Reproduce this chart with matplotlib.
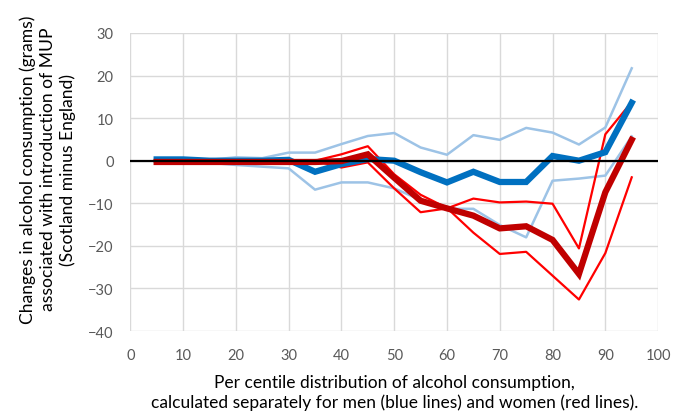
import numpy as np
import matplotlib.pyplot as plt

plt.rcParams['font.family'] = ['Lato', 'DejaVu Sans']

centile = [5, 10, 15, 20, 25, 30, 35, 40, 45, 50, 55, 60, 65, 70, 75, 80, 85, 90, 95]

men_mid = [0.3, 0.3, 0.0, 0.0, 0.0, 0.2, -2.6, -0.8, 0.4, 0.0, -2.7, -5.1, -2.6, -5.0, -5.0, 1.1, 0.0, 2.0, 13.6]
men_hi = [0.3, 0.3, 0.2, 0.8, 0.6, 1.9, 1.9, 3.9, 5.8, 6.5, 3.1, 1.4, 6.0, 4.9, 7.7, 6.6, 3.8, 7.8, 21.7]
men_lo = [0.2, 0.1, -0.5, -1.0, -1.4, -1.8, -6.8, -5.1, -5.1, -6.5, -9.2, -11.3, -11.3, -15.1, -18.0, -4.7, -4.2, -3.5, 5.7]

women_mid = [-0.3, -0.3, -0.3, -0.3, -0.3, -0.3, -0.3, -0.1, 1.5, -4.0, -9.4, -11.2, -12.9, -15.9, -15.4, -18.6, -26.6, -7.4, 4.9]
women_a = [0.0, 0.0, 0.0, 0.0, 0.0, 0.0, 0.0, 1.5, 3.4, -3.2, -8.0, -11.1, -16.9, -21.9, -21.4, -27.0, -32.6, -21.7, -3.9]
women_b = [0.0, 0.0, 0.0, 0.0, 0.0, 0.0, 0.0, -1.6, -0.4, -6.5, -12.1, -11.2, -8.9, -9.8, -9.6, -10.1, -20.6, 6.2, 13.8]

fig = plt.figure(figsize=(6.75, 4.14), dpi=100)
ax = fig.add_axes([0.193, 0.198, 0.782, 0.72])

light_blue = '#9DC3E6'
ax.plot(centile, men_hi, color=light_blue, lw=1.8, zorder=3)
ax.plot(centile, men_lo, color=light_blue, lw=1.8, zorder=3)
ax.plot(centile, women_a, color='#FF0000', lw=1.6, zorder=4)
ax.plot(centile, women_b, color='#FF0000', lw=1.6, zorder=4)
ax.plot(centile, men_mid, color='#0070C0', lw=4.5, zorder=5, solid_joinstyle='miter')
ax.plot(centile, women_mid, color='#C00000', lw=4.5, zorder=5, solid_joinstyle='miter')
ax.axhline(0, color='black', lw=1.6, zorder=6)

ax.set_xlim(0, 100)
ax.set_ylim(-40, 30)
ax.set_xticks(np.arange(0, 101, 10))
ax.set_yticks(np.arange(-40, 31, 10))
ax.grid(True, color='#D9D9D9', lw=1.0, zorder=0)
ax.set_axisbelow(True)
for s in ax.spines.values():
    s.set_visible(False)
ax.tick_params(length=0, labelsize=10.5, labelcolor='#595959', pad=12)

ax.set_ylabel('Changes in alcohol consumption (grams)\nassociated with introduction of MUP\n(Scotland minus England)',
              fontsize=12.6, linespacing=1.3)
ax.yaxis.set_label_coords(-0.102, 0.545)
ax.set_xlabel('Per centile distribution of alcohol consumption,\ncalculated separately for men (blue lines) and women (red lines).',
              fontsize=12.5, linespacing=1.27, labelpad=9)

fig.savefig('out.png', dpi=100)
